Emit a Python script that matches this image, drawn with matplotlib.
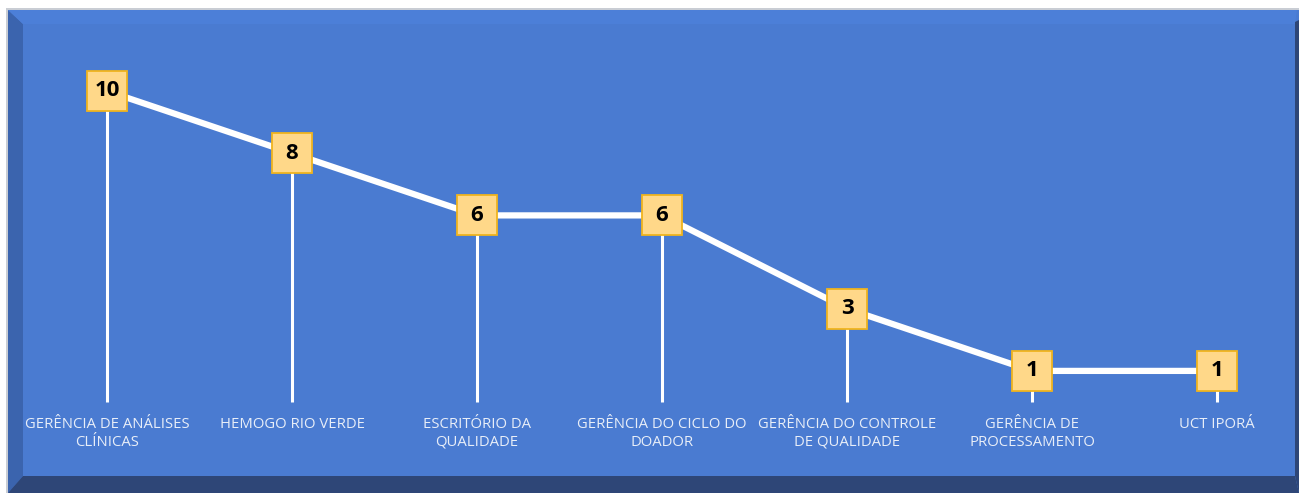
import matplotlib
matplotlib.use("Agg")
import matplotlib.pyplot as plt
from matplotlib.patches import Rectangle, Polygon

categories = ["GERÊNCIA DE ANÁLISES\nCLÍNICAS", "HEMOGO RIO VERDE", "ESCRITÓRIO DA\nQUALIDADE",
              "GERÊNCIA DO CICLO DO\nDOADOR", "GERÊNCIA DO CONTROLE\nDE QUALIDADE",
              "GERÊNCIA DE\nPROCESSAMENTO", "UCT IPORÁ"]
values = [10, 8, 6, 6, 3, 1, 1]

W, H = 1299, 493
fig = plt.figure(figsize=(W / 100, H / 100), dpi=100)
fig.patch.set_facecolor("white")

def fx(px):
    return px / W

def fy(py):
    return 1 - py / H

# background axes for panel decoration
bg = fig.add_axes([0, 0, 1, 1], zorder=0)
bg.set_xlim(0, 1)
bg.set_ylim(0, 1)
bg.axis("off")
bg.add_patch(Rectangle((fx(6), fy(493)), fx(1293), fy(8) - fy(493),
                       facecolor="#C9CDD4", edgecolor="none"))
bg.add_patch(Rectangle((fx(8), fy(493)), fx(1291), fy(10) - fy(493),
                       facecolor="#4A7BD1", edgecolor="none"))
bg.add_patch(Polygon([(fx(8), fy(10)), (fx(23), fy(24)), (fx(23), fy(476)), (fx(8), fy(493))],
                     closed=True, facecolor="#3B64AE", edgecolor="none"))
bg.add_patch(Polygon([(fx(8), fy(10)), (fx(1297), fy(10)), (fx(1295), fy(24)), (fx(23), fy(24))],
                     closed=True, facecolor="#4C7FD8", edgecolor="none"))
bg.add_patch(Polygon([(fx(8), fy(493)), (fx(23), fy(476)), (fx(1295), fy(476)), (fx(1299), fy(493))],
                     closed=True, facecolor="#2E4677", edgecolor="none"))
bg.add_patch(Polygon([(fx(1295), fy(22)), (fx(1299), fy(20)), (fx(1299), fy(493)), (fx(1295), fy(476))],
                     closed=True, facecolor="#2E4677", edgecolor="none"))

ax = fig.add_axes([0, 0, 1, 1], zorder=1)
ax.set_facecolor("none")
x0, dx = 107, 185
y0, dy = 402, 31.1
ax.set_xlim((0 - x0) / dx, (W - x0) / dx)
ax.set_ylim((y0 - H) / dy, y0 / dy)
ax.axis("off")

xs = list(range(len(values)))

# drop lines
ax.vlines(xs, 0, values, colors="white", linewidth=2.2, zorder=2)
# main line
ax.plot(xs, values, color="white", linewidth=4.5, zorder=3, solid_capstyle="butt")
# markers
ax.plot(xs, values, linestyle="none", marker="s", markersize=28.5,
        markerfacecolor="#FFD889", markeredgecolor="#F0B41E", markeredgewidth=1.3, zorder=4)
for x, v in zip(xs, values):
    ax.text(x, v, str(v), ha="center", va="center", fontsize=16, fontweight="bold",
            color="black", family="Open Sans", zorder=5)

# category labels
for x, c in zip(xs, categories):
    ax.text(x, (y0 - 417) / dy, c, ha="center", va="top", fontsize=10.7, color="#E8EEF8",
            family="Open Sans", linespacing=1.25, zorder=5)

fig.savefig("out.png", dpi=100)
